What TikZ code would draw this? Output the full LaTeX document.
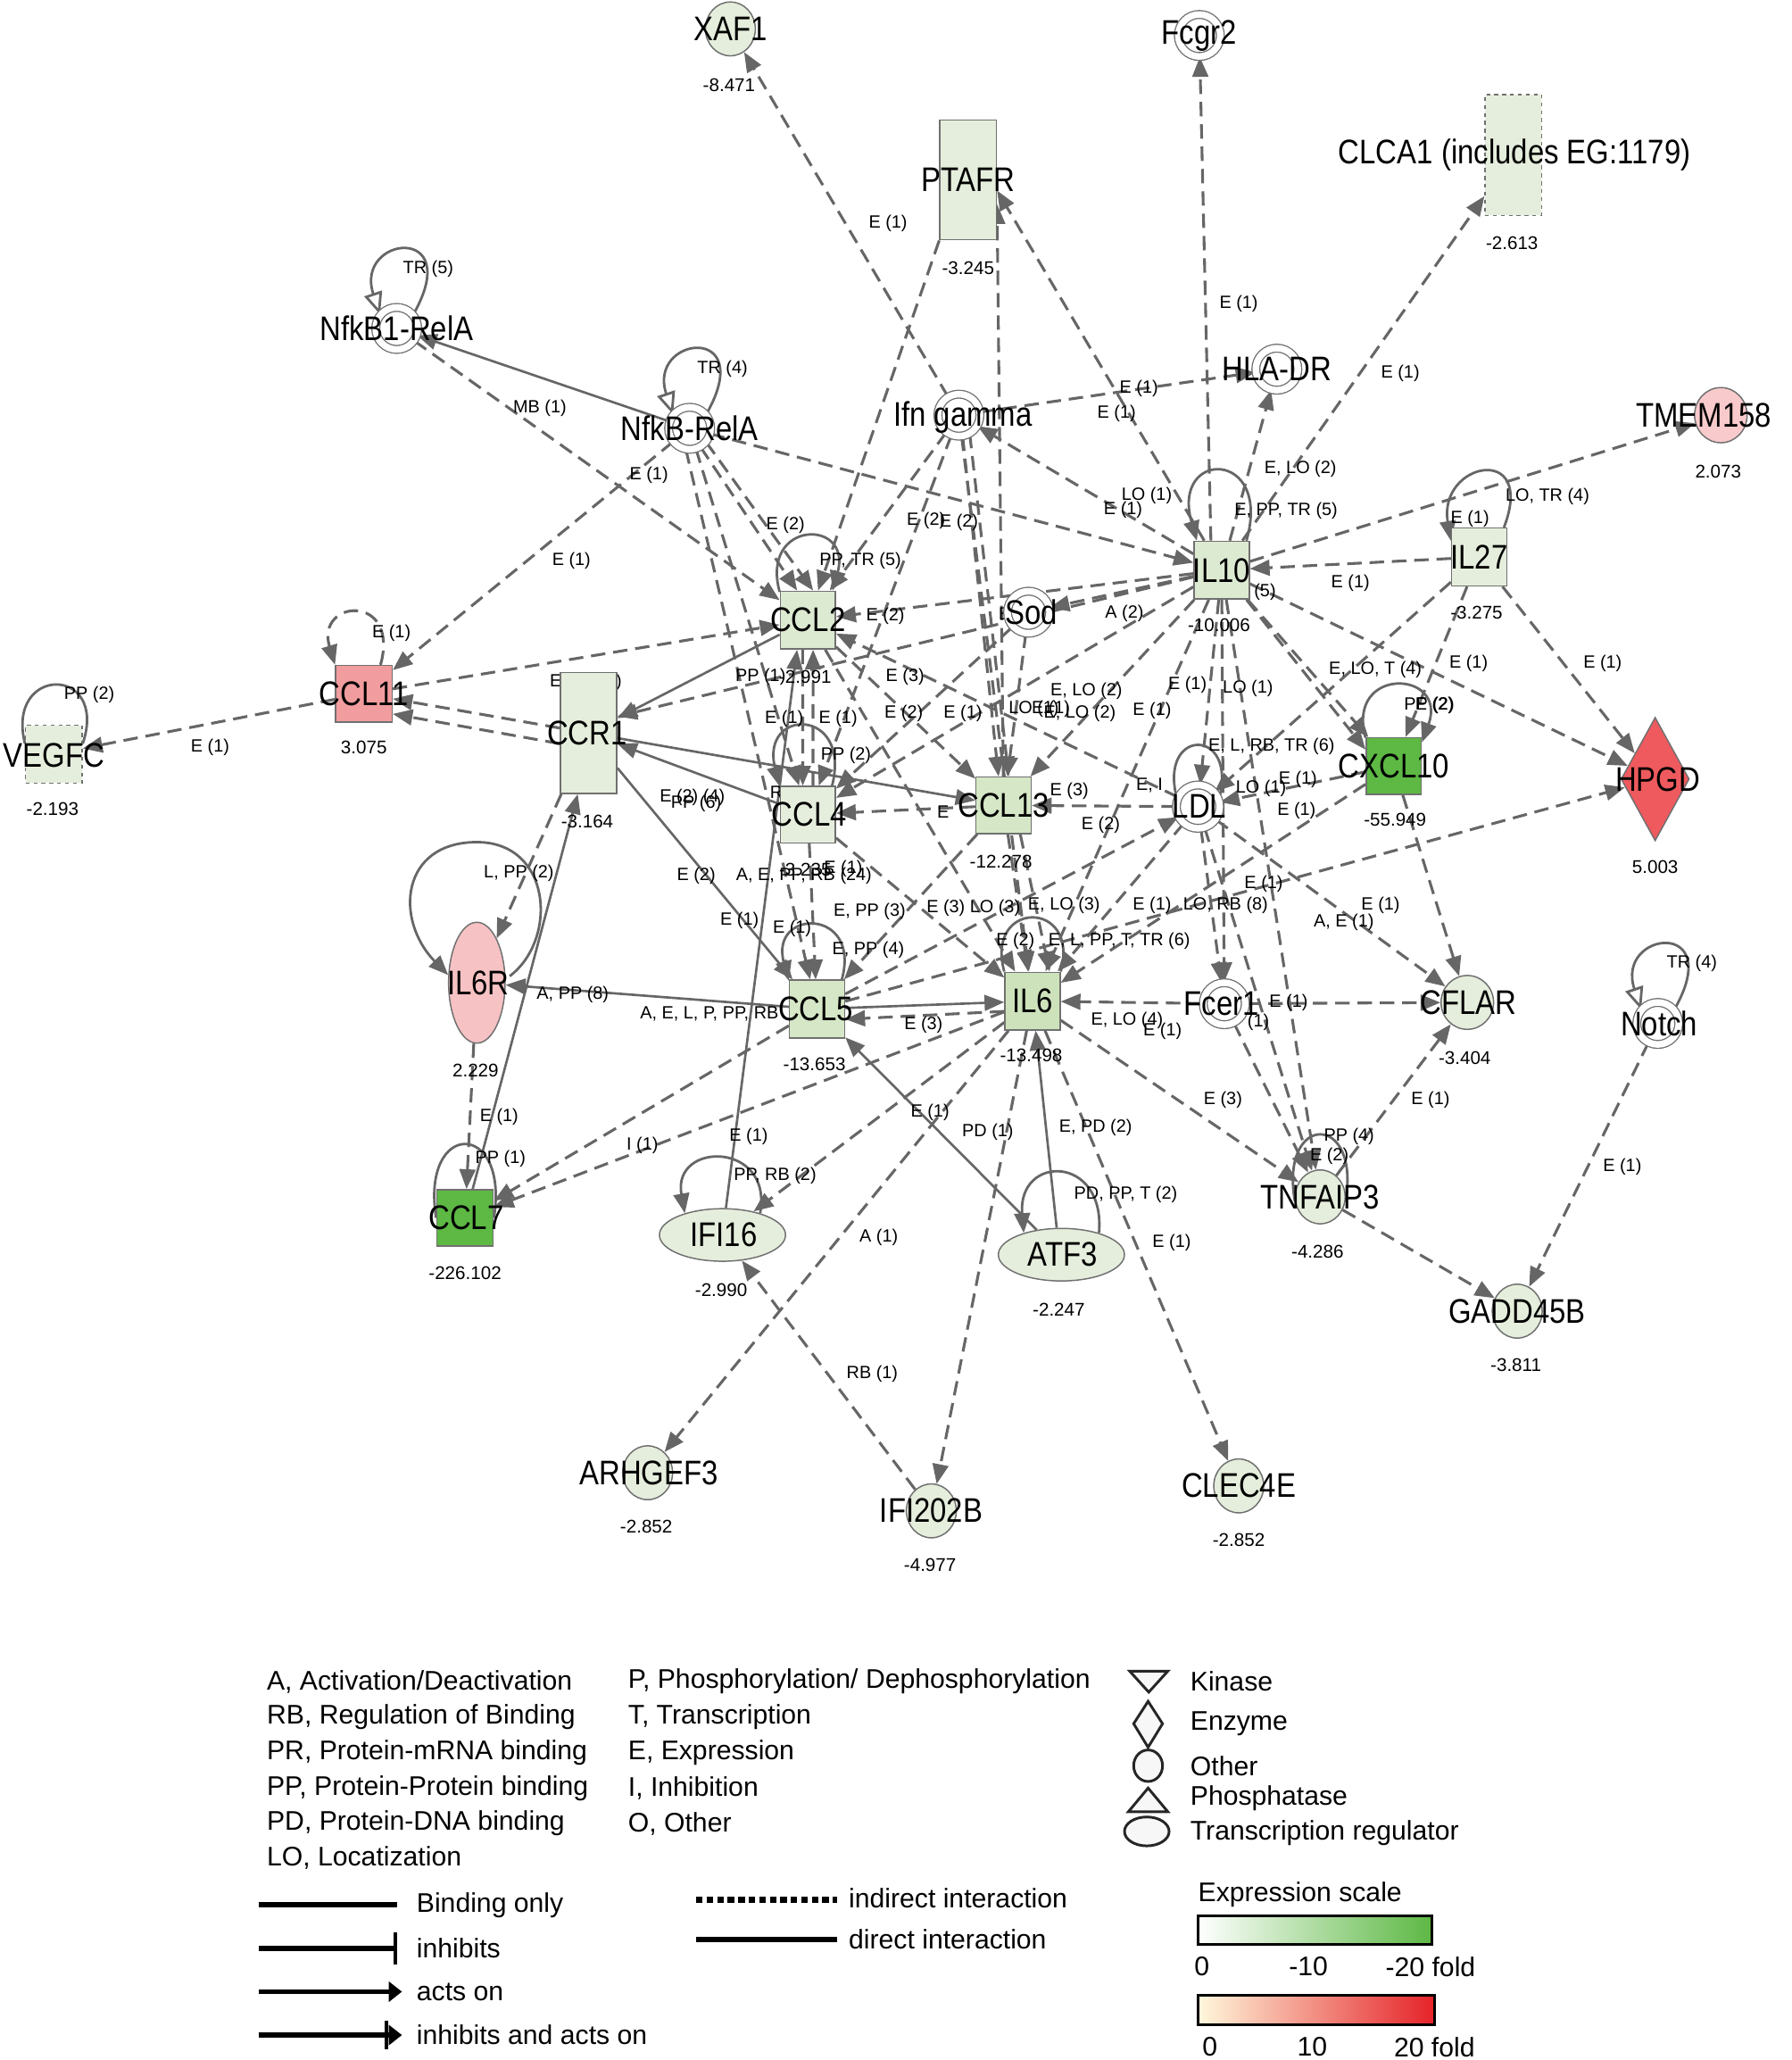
\documentclass[tikz,border=0pt]{standalone}
\usepackage{fontspec}
\setmainfont{Liberation Sans}
\newfontfamily\nfont{Liberation Sans}[FakeStretch=0.86]
\usetikzlibrary{arrows.meta,shapes.geometric}
\pgfdeclarelayer{edges}
\pgfdeclarelayer{fg}
\pgfsetlayers{edges,main,fg}
\definecolor{lc}{HTML}{666666}
\definecolor{bc}{HTML}{707070}
\definecolor{gpale}{HTML}{E5EEDC}
\definecolor{gone}{HTML}{DDEAD2}
\definecolor{gtwo}{HTML}{D5E7C6}
\definecolor{gthree}{HTML}{CDE2BB}
\definecolor{gstrong}{HTML}{5DB844}
\definecolor{redone}{HTML}{F19C9E}
\definecolor{redtwo}{HTML}{EE5A5E}
\definecolor{pinkone}{HTML}{F7C2C4}
\definecolor{pinktwo}{HTML}{F8CACB}
\definecolor{rl}{HTML}{FFF8DC}
\definecolor{rr}{HTML}{E52228}
\newcounter{elabc}
\newcounter{vlabc}
\newcommand\EL[2]{\stepcounter{elabc}\node[el] (el\arabic{elabc}) at (#1) {#2};}
\newcommand\VL[2]{\stepcounter{vlabc}\node[vl] (vl\arabic{vlabc}) at (#1) {#2};}
\begin{document}
\begin{tikzpicture}[x=1pt,y=-1pt,
  da/.style={draw=lc, line width=2.1pt, dash pattern=on 11pt off 6pt, -{Triangle[length=15pt,width=12pt]}},
  dn/.style={draw=lc, line width=2.1pt, dash pattern=on 11pt off 6pt},
  sa/.style={draw=lc, line width=1.8pt, -{Triangle[length=15pt,width=12pt]}},
  lp/.style={draw=lc, line width=1.9pt},
  lpa/.style={lp, -{Triangle[length=15pt,width=12pt]}},
  lpo/.style={lp, -{Triangle[open,length=17pt,width=14pt,fill=white]}},
  el/.style={font=\fontsize{13.5}{14}\selectfont, inner sep=0pt},
  nl/.style={font=\nfont\fontsize{26}{28}\selectfont, inner sep=0pt},
  vl/.style={font=\fontsize{14}{15}\selectfont, inner sep=0pt},
  lg/.style={font=\fontsize{20.5}{22}\selectfont, inner sep=0pt, anchor=west},
  box/.style={rectangle, draw=bc, line width=1pt, minimum width=42pt, minimum height=44pt, inner sep=0pt, fill=gpale},
  tallbox/.style={box, minimum width=43pt, minimum height=91pt},
  circ/.style={ellipse, draw=bc, line width=1pt, minimum width=38pt, minimum height=41pt, inner sep=0pt, fill=gpale},
  cplx/.style={circle, draw=bc, line width=0.9pt, double=white, double distance=5pt, fill=white, minimum size=32pt, inner sep=0pt},
  treg/.style={ellipse, draw=bc, line width=1pt, minimum width=96pt, minimum height=40pt, inner sep=0pt, fill=gpale},
  lgs/.style={draw=black!85, line width=2pt, fill=gray!6}
]
\useasboundingbox (0,0) rectangle (1364,1568);

% ---------------- nodes ----------------
\node[circ] (XAF1) at (556,22) {};
\node[cplx] (Fcgr2) at (913,27) {};
\node[tallbox] (PTAFR) at (737,137) {};
\node[tallbox, dashed, minimum height=92pt] (CLCA1) at (1152,118) {};
\node[cplx] (NfkBA) at (302,250) {};
\node[cplx] (NfkBB) at (525,326) {};
\node[cplx] (IfnG) at (730,316) {};
\node[cplx] (HLADR) at (972,281) {};
\node[circ, fill=pinktwo, minimum width=40pt, minimum height=42pt] (TMEM) at (1310,316) {};
\node[box, fill=gone] (IL10) at (930,434) {};
\node[box] (IL27) at (1126,424) {};
\node[box, fill=gone] (CCL2) at (615,472) {};
\node[cplx] (Sod) at (783,466) {};
\node[box, fill=redone, minimum width=43pt, minimum height=43pt] (CCL11) at (277,528) {};
\node[box, dashed, minimum width=43pt] (VEGFC) at (41,574) {};
\node[tallbox, minimum height=92pt] (CCR1) at (448,558) {};
\node[box, minimum height=43pt] (CCL4) at (615,620) {};
\node[box, fill=gtwo, minimum height=43pt] (CCL13) at (764,613) {};
\node[cplx, minimum size=33pt] (LDL) at (912,614) {};
\node[box, fill=gstrong, minimum height=43pt] (CXCL10) at (1061,583) {};
\node[diamond, draw=bc, line width=1pt, fill=redtwo, minimum width=52pt, minimum height=94pt, inner sep=0pt] (HPGD) at (1260,593) {};
\node[ellipse, draw=bc, line width=1pt, fill=pinkone, minimum width=43pt, minimum height=92pt, inner sep=0pt] (IL6R) at (363,748) {};
\node[box, fill=gtwo] (CCL5) at (622,768) {};
\node[box, fill=gthree] (IL6) at (786,762) {};
\node[cplx] (Fcer1) at (932,764) {};
\node[circ, minimum width=40pt] (CFLAR) at (1117,763) {};
\node[cplx] (Notch) at (1262,779) {};
\node[box, fill=gstrong, minimum width=43pt, minimum height=43pt] (CCL7) at (354,927) {};
\node[treg] (IFI16) at (550,940) {};
\node[treg] (ATF3) at (808,955) {};
\node[circ] (TNFAIP3) at (1005,911) {};
\node[circ] (GADD45B) at (1155,998) {};
\node[circ] (ARHGEF3) at (493,1121) {};
\node[circ] (IFI202B) at (709,1150) {};
\node[circ] (CLEC4E) at (943,1131) {};

% ---------------- connectors ----------------
\begin{pgfonlayer}{edges}
\fill[white] (0,0) rectangle (1364,1568);
\draw[da] (IfnG) -- (XAF1);
\draw[da] (IL10.110) -- (Fcgr2);
\draw[da] (IL10) -- (CLCA1);
\draw[da] (IL10) -- (HLADR);
\draw[da] (IfnG) -- (HLADR);
\draw[da] (IL10) -- (TMEM);
\draw[da] (IL27) -- (IL10);
\draw[da] (IL27) -- (HPGD);
\draw[da] (IL10) -- (HPGD);
\draw[da] (IL27) -- (CXCL10);
\draw[da] (IL27) -- (LDL);
\draw[da] (IL10) -- (CXCL10);
\draw[da] (IL10.-50) -- (CXCL10.150);
\draw[sa] (NfkBB) -- (NfkBA);
\draw[da] (NfkBA) -- (CCL2);
\draw[da] (NfkBB) -- (CCL11);
\draw[da] (NfkBB) -- (IL10);
\draw[da] (NfkBB.-60) -- (CCL2.110);
\draw[da] (NfkBB.-40) -- (CCL2.80);
\draw[da] (NfkBB) -- (CCL4);
\draw[da] (NfkBB.-100) -- (CCL5);
\draw[da] (IfnG) -- (CCL2);
\draw[da] (IfnG.-80) -- (CCL13.100);
\draw[da] (IfnG.-60) -- (CCL13.80);
\draw[da] (IfnG) -- (IL6);
\draw[da] (IfnG) -- (CCL4);
\draw[da] (IL10.150) -- (IfnG);
\draw[da] (PTAFR.south west) -- (CCL2);
\draw[da] (IL10) -- (PTAFR.-20);
\draw[da] (CCL13) -- (PTAFR.-40);
\draw[da] (CCL11) -- (VEGFC);
\draw[da] (CCR1.170) -- (CCL11.-10);
\draw[da] (CCR1.200) -- (CCL11.-35);
\draw[da] (CCL11) -- (CCL2);
\draw[sa] (CCL2) -- (CCR1);
\draw[da] (IL10) -- (CCR1.30);
\draw[sa] (CCR1) -- (CCL13);
\draw[sa] (CCR1) -- (CCL5);
\draw[sa] (CCL4) -- (CCR1);
\draw[sa] (CCL5) -- (IL6R);
\draw[sa] (CCL7) -- (CCR1.-100);
\draw[da] (CCR1) -- (IL6R);
\draw[da] (IL6R) -- (CCL7);
\draw[da] (IL6) -- (CCL7);
\draw[da] (CCL5) -- (CCL7);
\draw[da] (CCL4) -- (CCL5);
\draw[da] (CCL2.-100) -- (CCL4.100);
\draw[da] (CCL4.80) -- (CCL2.-80);
\draw[da] (IL10) -- (CCL2);
\draw[da] (IL10) -- (Sod);
\draw[da] (Sod) -- (CCL13);
\draw[da] (Sod) -- (CCL4);
\draw[da] (IL10) -- (CCL13);
\draw[da] (IL10) -- (CCL4);
\draw[da] (IL10) -- (IL6);
\draw[da] (IL10) -- (LDL);
\draw[da] (IL10) -- (Fcer1);
\draw[da] (IL10) -- (TNFAIP3);
\draw[da] (LDL) -- (CCL13);
\draw[da] (LDL) -- (CCL2);
\draw[da] (LDL) -- (IL6);
\draw[da] (LDL) -- (Fcer1);
\draw[da] (LDL) -- (CFLAR);
\draw[da] (CXCL10) -- (LDL);
\draw[da] (CXCL10) -- (CFLAR);
\draw[da] (CXCL10) -- (IL6);
\draw[da] (Fcer1) -- (CFLAR);
\draw[da] (Fcer1) -- (IL6);
\draw[da] (IL6) -- (TNFAIP3);
\draw[da] (LDL) -- (TNFAIP3);
\draw[da] (Fcer1) -- (TNFAIP3);
\draw[da] (TNFAIP3) -- (CFLAR);
\draw[da] (TNFAIP3) -- (GADD45B);
\draw[da] (Notch) -- (GADD45B);
\draw[da] (IL6) -- (CLEC4E);
\draw[da] (IL6) -- (IFI202B);
\draw[da] (IL6) -- (ARHGEF3);
\draw[da] (IFI202B) -- (IFI16);
\draw[sa] (ATF3) -- (CCL5);
\draw[sa] (ATF3.100) -- (IL6);
\draw[da] (IL6) -- (IFI16);
\draw[sa] (IFI16) -- (CCL2.-110);
\draw[da] (CCL13) -- (IL6);
\draw[da] (CCL13.-60) -- (IL6.60);
\draw[sa] (CCL5) -- (IL6);
\draw[da] (IL6.200) -- (CCL5.-20);
\draw[da] (CCL5) -- (HPGD);
\draw[da] (CCL2) -- (CCL13);
\draw[da] (CCL13) -- (CCL4);
\draw[da] (CCL2) -- (IL6);
\draw[da] (CCL4) -- (IL6);
\draw[da] (CCL13) -- (CCL5);
\draw[da] (CCL5) -- (LDL);

% self loops
\draw[lpo] (NfkBA.40) .. controls +(40,-70) and +(-20,-60) .. (NfkBA.140);
\draw[lpo] (NfkBB.40) .. controls +(40,-70) and +(-20,-60) .. (NfkBB.140);
\draw[lpo] (Notch.40) .. controls +(40,-70) and +(-20,-60) .. (Notch.140);
\draw[da] (CCL11.60) .. controls +(15,-55) and +(-15,-50) .. (CCL11.north west);
\draw[lp] (VEGFC.160) .. controls +(-15,-60) and +(20,-60) .. (VEGFC.20);
\draw[lpa] (CCL2.135) .. controls +(-15,-55) and +(15,-55) .. (CCL2.50);
\draw[lpa] (CCL4.50) .. controls +(15,-60) and +(-15,-60) .. (CCL4.135);
\draw[lpa] (CCL5.50) .. controls +(15,-55) and +(-15,-55) .. (CCL5.135);
\draw[lpa] (IL10.50) .. controls +(20,-70) and +(-20,-70) .. (IL10.130);
\draw[lpa] (IL27.50) .. controls +(25,-65) and +(-10,-60) .. (IL27.150);
\draw[lpa] (CXCL10.135) .. controls +(-15,-55) and +(20,-55) .. (CXCL10.40);
\draw[lp] (LDL.160) .. controls +(-15,-55) and +(15,-55) .. (LDL.20);
\draw[lp] (IL6.north west) .. controls +(-15,-55) and +(15,-55) .. (IL6.north east);
\draw[lpa] (388,743) .. controls (425,715) and (420,641) .. (363,641) .. controls (305,641) and (300,700) .. (IL6R.165);
\draw[lp] (CCL7.west) .. controls +(-12,-75) and +(12,-75) .. (CCL7.east);
\draw[lpa] (IFI16.30) .. controls +(10,-55) and +(-10,-55) .. (IFI16.150);
\draw[lpa] (ATF3.30) .. controls +(5,-60) and +(-5,-60) .. (ATF3.150);
\draw[lp] (TNFAIP3.190) .. controls +(-12,-68) and +(12,-68) .. (TNFAIP3.-10);

% connector labels
\EL{326,205}{TR (5)}
\EL{550,281}{TR (4)}
\EL{411,311}{MB (1)}
\EL{676,170}{E (1)}
\EL{943,231}{E (1)}
\EL{1066,284}{E (1)}
\EL{867,296}{E (1)}
\EL{850,315}{E (1)}
\EL{494,362}{E (1)}
\EL{435,427}{E (1)}
\EL{598,400}{E (2)}
\EL{655,427}{PP, TR (5)}
\EL{705,396}{E (2)}
\EL{730,398}{E (2)}
\EL{873,377}{LO (1)}
\EL{855,388}{E (1)}
\EL{990,357}{E, LO (2)}
\EL{979,389}{E, PP, TR (5)}
\EL{1178,378}{LO, TR (4)}
\EL{1119,395}{E (1)}
\EL{1028,444}{E (1)}
\EL{963,451}{(5)}
\EL{674,469}{E (2)}
\EL{775,468}{E (1)}
\EL{856,467}{A (2)}
\EL{298,482}{E (1)}
\EL{68,529}{PP (2)}
\EL{160,569}{E (1)}
\EL{446,519}{E, PP (2)}
\EL{579,515}{PP (1)}
\EL{689,515}{E (3)}
\EL{597,547}{E (1)}
\EL{638,547}{E (1)}
\EL{688,543}{E (2)}
\EL{733,543}{E (1)}
\EL{787,540}{LO (1)}
\EL{800,540}{E (1)}
\EL{827,526}{E, LO (2)}
\EL{822,543}{E, LO (2)}
\EL{877,541}{E (1)}
\EL{904,521}{E (1)}
\EL{950,524}{LO (1)}
\EL{1047,510}{E, LO, T (4)}
\EL{1118,505}{E (1)}
\EL{1220,505}{E (1)}
\EL{1088,537}{PP (2)}
\EL{1092,537}{E (2)}
\EL{968,568}{E, L, RB, TR (6)}
\EL{988,593}{E (1)}
\EL{960,600}{LO (1)}
\EL{987,617}{E (1)}
\EL{644,575}{PP (2)}
\EL{591,603}{R}
\EL{527,607}{E (2) (4)}
\EL{530,612}{PP (6)}
\EL{814,602}{E (3)}
\EL{838,628}{E (2)}
\EL{718,618}{E}
\EL{875,598}{E, I}
\EL{530,667}{E (2)}
\EL{612,667}{A, E, PP, RB (24)}
\EL{642,661}{E (1)}
\EL{395,665}{L, PP (2)}
\EL{563,701}{E (1)}
\EL{603,707}{E (1)}
\EL{662,694}{E, PP (3)}
\EL{661,723}{E, PP (4)}
\EL{741,691}{E (3) LO (3)}
\EL{810,689}{E, LO (3)}
\EL{877,689}{E (1)}
\EL{933,689}{LO, RB (8)}
\EL{962,673}{E (1)}
\EL{1051,689}{E (1)}
\EL{1023,702}{A, E (1)}
\EL{773,716}{E (2)}
\EL{852,716}{E, L, PP, T, TR (6)}
\EL{436,757}{A, PP (8)}
\EL{540,772}{A, E, L, P, PP, RB}
\EL{703,780}{E (3)}
\EL{858,777}{E, LO (4)}
\EL{885,785}{E (1)}
\EL{981,763}{E (1)}
\EL{958,778}{(1)}
\EL{1288,733}{TR (4)}
\EL{1089,837}{E (1)}
\EL{931,837}{E (3)}
\EL{380,850}{E (1)}
\EL{381,882}{PP (1)}
\EL{570,865}{E (1)}
\EL{489,872}{I (1)}
\EL{708,847}{E (1)}
\EL{752,862}{PD (1)}
\EL{834,858}{E, PD (2)}
\EL{1027,865}{PP (4)}
\EL{1012,880}{E (2)}
\EL{590,895}{PP, RB (2)}
\EL{857,909}{PD, PP, T (2)}
\EL{669,942}{A (1)}
\EL{892,946}{E (1)}
\EL{1235,888}{E (1)}
\EL{776,957}{E (1)}
\EL{664,1046}{RB (1)}
\end{pgfonlayer}

% ---------------- node labels ----------------
\begin{pgfonlayer}{fg}
\node[nl] (tXAF1) at (556,22) {XAF1};
\node[nl] (tFcgr2) at (913,27) {Fcgr2};
\node[nl] (tPTAFR) at (737,137) {PTAFR};
\node[nl] (tCLCA1) at (1153,118) {CLCA1 (includes EG:1179)};
\node[nl] (tNfkBA) at (302,250) {NfkB1-RelA};
\node[nl] (tNfkBB) at (525,326) {NfkB-RelA};
\node[nl] (tIfnG) at (733,318) {Ifn gamma};
\node[nl] (tHLADR) at (972,281) {HLA-DR};
\node[nl] (tTMEM) at (1297,316) {TMEM158};
\node[nl] (tIL10) at (930,434) {IL10};
\node[nl] (tIL27) at (1126,424) {IL27};
\node[nl] (tCCL2) at (615,472) {CCL2};
\node[nl] (tSod) at (785,466) {Sod};
\node[nl] (tCCL11) at (277,528) {CCL11};
\node[nl] (tVEGFC) at (41,575) {VEGFC};
\node[nl] (tCCR1) at (447,558) {CCR1};
\node[nl] (tCCL4) at (616,620) {CCL4};
\node[nl] (tCCL13) at (764,613) {CCL13};
\node[nl] (tLDL) at (913,614) {LDL};
\node[nl] (tCXCL10) at (1061,583) {CXCL10};
\node[nl] (tHPGD) at (1262,593) {HPGD};
\node[nl] (tIL6R) at (364,748) {IL6R};
\node[nl] (tCCL5) at (621,768) {CCL5};
\node[nl] (tIL6) at (786,762) {IL6};
\node[nl] (tFcer1) at (930,764) {Fcer1};
\node[nl] (tCFLAR) at (1118,763) {CFLAR};
\node[nl] (tNotch) at (1263,779) {Notch};
\node[nl] (tCCL7) at (355,927) {CCL7};
\node[nl] (tIFI16) at (551,940) {IFI16};
\node[nl] (tATF3) at (809,955) {ATF3};
\node[nl] (tTNFAIP3) at (1005,911) {TNFAIP3};
\node[nl] (tGADD45B) at (1155,998) {GADD45B};
\node[nl] (tARHGEF3) at (494,1121) {ARHGEF3};
\node[nl] (tIFI202B) at (709,1150) {IFI202B};
\node[nl] (tCLEC4E) at (943,1131) {CLEC4E};
\end{pgfonlayer}

% ---------------- values ----------------
\VL{555,65}{-8.471}
\VL{737,204}{-3.245}
\VL{1151,185}{-2.613}
\VL{1308,359}{2.073}
\VL{928,476}{-10.006}
\VL{1124,466}{-3.275}
\VL{613,515}{-2.991}
\VL{277,569}{3.075}
\VL{40,616}{-2.193}
\VL{447,625}{-3.164}
\VL{613,662}{-3.235}
\VL{762,656}{-12.278}
\VL{1062,624}{-55.949}
\VL{1260,660}{5.003}
\VL{362,815}{2.229}
\VL{620,810}{-13.653}
\VL{785,803}{-13.498}
\VL{1115,805}{-3.404}
\VL{354,969}{-226.102}
\VL{549,982}{-2.990}
\VL{806,997}{-2.247}
\VL{1003,953}{-4.286}
\VL{1154,1039}{-3.811}
\VL{492,1162}{-2.852}
\VL{708,1191}{-4.977}
\VL{943,1172}{-2.852}

% ---------------- legend ----------------
\node[lg] (g1) at (203,1280) {A, Activation/Deactivation};
\node[lg] (g2) at (203,1307) {RB, Regulation of Binding};
\node[lg] (g3) at (203,1334) {PR, Protein-mRNA binding};
\node[lg] (g4) at (203,1361) {PP, Protein-Protein binding};
\node[lg] (g5) at (203,1388) {PD, Protein-DNA binding};
\node[lg] (g6) at (203,1414) {LO, Locatization};
\node[lg] (g7) at (478,1280) {P, Phosphorylation/ Dephosphorylation};
\node[lg] (g8) at (478,1307) {T, Transcription};
\node[lg] (g9) at (478,1334) {E, Expression};
\node[lg] (g10) at (478,1361) {I, Inhibition};
\node[lg] (g11) at (478,1388) {O, Other};
\draw[lgs] (860,1272) -- (889,1272) -- (874.5,1288) -- cycle;
\draw[lgs] (874,1295) -- (885,1312) -- (874,1330) -- (863,1312) -- cycle;
\draw[lgs] (874,1344) ellipse [x radius=11, y radius=12];
\draw[lgs] (859,1379) -- (889,1379) -- (874,1361) -- cycle;
\draw[lgs] (873,1394) ellipse [x radius=17, y radius=11];
\node[lg] (g12) at (906,1280) {Kinase};
\node[lg] (g13) at (906,1312) {Enzyme};
\node[lg] (g14) at (906,1344) {Other};
\node[lg] (g15) at (906,1369) {Phosphatase};
\node[lg] (g16) at (906,1395) {Transcription regulator};

\draw[line width=4pt] (197,1450) -- (302,1450);
\draw[line width=4pt] (197,1483) -- (300,1483);
\draw[line width=3pt] (301,1471) -- (301,1495);
\draw[line width=4pt, -{Triangle[length=10pt,width=15pt]}] (197,1516) -- (306,1516);
\draw[line width=4pt, -{Triangle[length=10pt,width=15pt]}] (197,1549) -- (306,1549);
\draw[line width=3pt] (294,1538) -- (294,1560);
\node[lg] (g17) at (317,1450) {Binding only};
\node[lg] (g18) at (317,1483) {inhibits};
\node[lg] (g19) at (317,1516) {acts on};
\node[lg] (g20) at (317,1549) {inhibits and acts on};
\draw[line width=4.5pt, dash pattern=on 5pt off 3pt] (530,1446) -- (637,1446);
\draw[line width=4pt] (530,1476) -- (637,1476);
\node[lg] (g21) at (646,1445) {indirect interaction};
\node[lg] (g22) at (646,1476) {direct interaction};

\node[lg] (g23) at (912,1442) {Expression scale};
\shadedraw[left color=white, right color=gstrong, draw=black, line width=2pt] (912,1458) rectangle (1090,1480);
\shadedraw[left color=rl, right color=rr, draw=black, line width=2pt] (912,1519) rectangle (1092,1541);
\node[lg, anchor=center] (g24) at (915,1497) {0};
\node[lg, anchor=center] (g25) at (996,1497) {-10};
\node[lg, anchor=center] (g26) at (1089,1497) {-20 fold};
\node[lg, anchor=center] (g27) at (921,1558) {0};
\node[lg, anchor=center] (g28) at (999,1558) {10};
\node[lg, anchor=center] (g29) at (1092,1558) {20 fold};
\end{tikzpicture}
\end{document}
